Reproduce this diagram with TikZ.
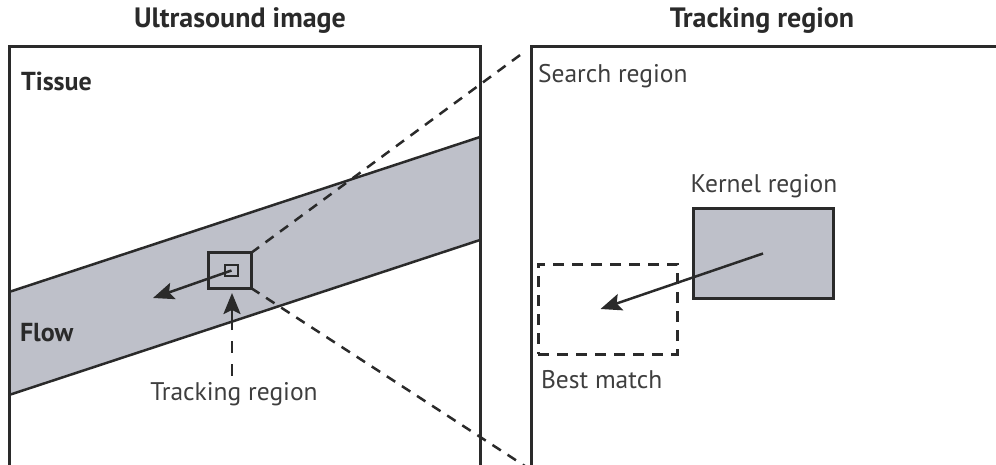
\documentclass[tikz,border=0pt]{standalone}
\usepackage{fontspec}
\setmainfont{PT Sans}
\usepackage{tikz}
\usetikzlibrary{arrows.meta,positioning}
\definecolor{inkdark}{HTML}{2A2A2A}
\definecolor{labelgray}{HTML}{3E3E3E}
\definecolor{flowgray}{HTML}{BEC0C9}

\begin{document}
\begin{tikzpicture}[
    x=1pt, y=-1pt,
    every node/.style={font=\fontsize{25.5}{30}\selectfont, inner sep=0pt, outer sep=0pt},
    heading/.style={font=\fontsize{28}{32}\selectfont\bfseries, text=inkdark, anchor=base},
    zonelabel/.style={font=\fontsize{26}{30}\selectfont\bfseries, text=inkdark, anchor=base west},
    tag/.style={text=labelgray},
    frame/.style={draw=inkdark, line width=3pt},
    roi/.style={rectangle, draw=inkdark, line width=3pt},
    zoomline/.style={draw=inkdark, line width=2.5pt, dash pattern=on 10pt off 8pt},
    motion/.style={-{Stealth[length=21pt,width=17pt,inset=4pt]}, draw=inkdark, line width=2.5pt}
]
    \useasboundingbox (0,0) rectangle (996,465);
    \clip (0,0) rectangle (996,465);

    % === LEFT SIDE: ULTRASOUND IMAGE ===
    \node[heading] (usimage) at (240,28) {Ultrasound image};

    % Flow band
    \fill[flowgray] (9,292) -- (480,137) -- (480,240) -- (9,395) -- cycle;
    \draw[inkdark, line width=2.5pt] (9,292) -- (480,137);
    \draw[inkdark, line width=2.5pt] (9,395) -- (480,240);

    % Image frame (runs off the bottom)
    \draw[frame] (9,480) -- (9,47) -- (480,47) -- (480,480);

    \node[zonelabel] (tissue) at (21,91) {Tissue};
    \node[zonelabel] (flow) at (20,341) {Flow};

    % Tracking region in the image
    \node[roi, minimum width=43pt, minimum height=35pt] (trackbox) at (229.5,270.5) {};
    \node[roi, line width=2.5pt, minimum width=13pt, minimum height=11pt] (innerbox) at (231.5,270.5) {};
    \coordinate (flowtip) at (153,298);
    \draw[motion] (innerbox.center) -- (flowtip);

    \node[tag, anchor=base] (trlabel) at (234,400) {Tracking region};
    \coordinate (trmid) at (232,330);
    \draw[inkdark, line width=2.5pt, dash pattern=on 12pt off 11pt] ([xshift=-2pt,yshift=6pt]trlabel.north) -- (trmid);
    \draw[motion] (trmid) -- ([xshift=2.5pt,yshift=-5pt]trackbox.south);

    % === RIGHT SIDE: TRACKING REGION ===
    \node[heading] (trackhead) at (762,28) {Tracking region};
    \coordinate (searchnw) at (531,47);
    \coordinate (searchsw) at (531,470);
    \draw[frame] (searchsw |- 0,480) -- (searchnw) -- (1010,47);

    \node[tag, anchor=base west] (search) at (538,83) {Search region};

    % Kernel and best match
    \node[roi, fill=flowgray, minimum width=140pt, minimum height=89pt] (kernel) at (763,253.5) {};
    \node[tag, anchor=base] (kernellabel) at (764,193) {Kernel region};
    \node[rectangle, draw=inkdark, line width=3pt, dash pattern=on 11pt off 8pt,
          minimum width=139pt, minimum height=90pt] (bestmatch) at (607.5,309) {};
    \node[tag, anchor=base west] (bestlabel) at (541,388) {Best match};
    \draw[motion] (kernel.center) -- ([xshift=-7pt]bestmatch.center);

    % === ZOOM LINES ===
    \draw[zoomline, shorten >=10pt] (trackbox.north east) -- (searchnw);
    \draw[zoomline] (trackbox.south east) -- (searchsw);
\end{tikzpicture}
\end{document}
